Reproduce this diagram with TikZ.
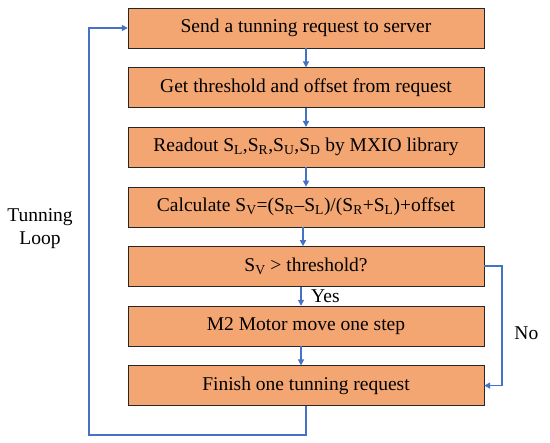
\documentclass[tikz,border=0pt]{standalone}
\usepackage{fontspec}
\setmainfont{Liberation Serif}
\usetikzlibrary{arrows.meta, positioning}
\definecolor{boxorange}{HTML}{F4A672}
\definecolor{loopblue}{HTML}{4472C4}

\begin{document}
\begin{tikzpicture}[x=1pt, y=1pt, node distance=19.2pt, >={Triangle[length=6pt, width=6pt]},
  proc/.style={rectangle, draw=black!85, fill=boxorange, minimum width=356pt, minimum height=40pt, inner sep=0pt, font=\fontsize{19.5}{22}\selectfont},
  flow/.style={->, loopblue, line width=1.8pt},
  lbl/.style={text=black, font=\fontsize{19.5}{23}\selectfont, align=center}]
\useasboundingbox (0,0) rectangle (550,-443);

\node[proc] (send) at (306,-28) {Send a tunning request to server};
\node[proc, below=of send] (get) {Get threshold and offset from request};
\node[proc, below=of get] (read) {Readout S\textsubscript{L},S\textsubscript{R},S\textsubscript{U},S\textsubscript{D} by MXIO library};
\node[proc, below=of read] (calc) {Calculate S\textsubscript{V}=(S\textsubscript{R}–S\textsubscript{L})/(S\textsubscript{R}+S\textsubscript{L})+offset};
\node[proc, below=of calc] (check) {S\textsubscript{V} > threshold?};
\node[proc, below=of check] (move) {M2 Motor move one step};
\node[proc, below=of move] (finish) {Finish one tunning request};

\node[lbl] (looplbl) at (40,-229) {Tunning\\Loop};
\coordinate (loopcorner) at (89,-435);

\draw[flow] (send) -- (get);
\draw[flow] (get) -- (read);
\draw[flow] (read) -- (calc);
\draw[flow] ([xshift=-3pt]calc.south) -- ([xshift=-3pt]check.north);
\draw[flow] ([xshift=-5pt]check.south) -- node[lbl, right=6pt] {Yes} ([xshift=-5pt]move.north);
\draw[flow] ([xshift=-5pt]move.south) -- ([xshift=-5pt]finish.north);
\draw[flow] (check.east) -- ++(18,0) |- node[lbl, pos=0.28, right=8pt] {No} (finish.east);
\draw[flow] (finish.south) |- (loopcorner) |- (send.west);

\end{tikzpicture}
\end{document}
